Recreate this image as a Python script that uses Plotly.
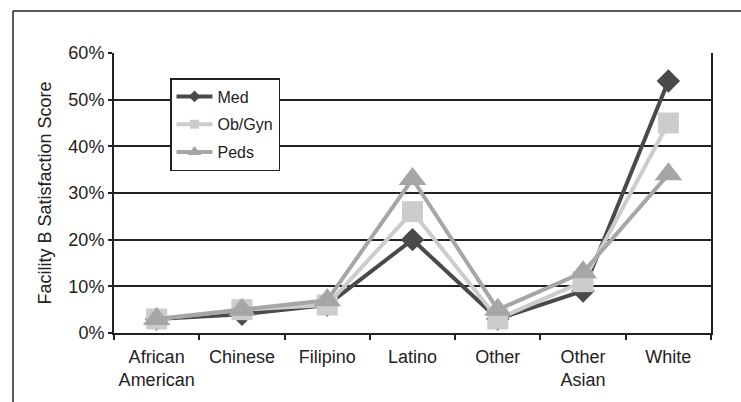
import plotly.graph_objects as go

categories = ["African<br>American", "Chinese", "Filipino", "Latino", "Other", "Other<br>Asian", "White"]
med = [3, 4, 6, 20, 3, 9, 54]
obgyn = [3, 5, 6, 26, 3, 11, 45]
peds = [3, 5, 7, 33, 5, 13, 34]
series_names = ["Med", "Ob/Gyn", "Peds"]
y_ticks = [0, 10, 20, 30, 40, 50, 60]

W, H = 741, 402
L, R, T, B = 114, 711, 53, 333

fig = go.Figure()
styles = [
    ("#4a4a4a", "diamond", 18, 9),
    ("#cccccc", "square", 21, 9),
    ("#a6a6a6", "triangle-up", 24, 12),
]
for name, vals, (col, sym, sz, lsz) in zip(series_names, [med, obgyn, peds], styles):
    fig.add_trace(go.Scatter(
        x=categories, y=vals, name=name, mode="lines+markers", legendgroup=name,
        showlegend=False,
        line=dict(color=col, width=4),
        marker=dict(symbol=sym, size=sz, color=col),
    ))
    # legend-only entry with smaller symbol, as in the reference legend
    fig.add_trace(go.Scatter(
        x=[None], y=[None], name=name, mode="lines+markers", legendgroup=name,
        showlegend=True,
        line=dict(color=col, width=4),
        marker=dict(symbol=sym, size=lsz, color=col),
    ))

def px(x):
    return (x - L) / (R - L)

def py(y):
    return (B - y) / (B - T)

fig.update_layout(
    width=W, height=H,
    margin=dict(l=L, r=W - R, t=T, b=H - B, pad=0),
    paper_bgcolor="white", plot_bgcolor="white",
    font=dict(family="Liberation Sans, Arial, sans-serif", size=18, color="#222222"),
    showlegend=True,
    hovermode=False,
    legend=dict(
        x=px(170), y=py(78), xanchor="left", yanchor="top",
        bgcolor="white", bordercolor="#222222", borderwidth=1.5,
        font=dict(size=16), itemwidth=36, tracegroupgap=4,
    ),
    xaxis=dict(
        type="category", range=[-0.5, 6.5], tickangle=0, automargin=False,
        showgrid=False, showline=True, linecolor="#222222", linewidth=2,
        ticks="outside", tickson="boundaries", ticklen=5, tickwidth=2, tickcolor="#222222",
        mirror=False, tickfont=dict(size=18), ticklabelstandoff=6,
    ),
    yaxis=dict(
        range=[0, 60], tickvals=y_ticks, ticktext=[f"{v}%" for v in y_ticks], automargin=False,
        showgrid=True, gridcolor="#222222", gridwidth=2,
        showline=True, linecolor="#222222", linewidth=2, mirror=True,
        ticks="outside", ticklen=4, tickwidth=2, tickcolor="#222222",
        zeroline=False, tickfont=dict(size=18),
        title=dict(text="Facility B Satisfaction Score", font=dict(size=18), standoff=12),
    ),
    shapes=[
        dict(type="line", xref="paper", yref="paper", x0=px(13), y0=py(402), x1=px(13), y1=py(11),
             line=dict(color="#222222", width=1.5)),
        dict(type="line", xref="paper", yref="paper", x0=px(13), y0=py(11), x1=px(741), y1=py(11),
             line=dict(color="#222222", width=1.5)),
    ],
)

fig.write_html("out.html", config={"displayModeBar": False, "staticPlot": True},
               post_script="document.body.style.margin='0';document.body.style.overflow='hidden';")
